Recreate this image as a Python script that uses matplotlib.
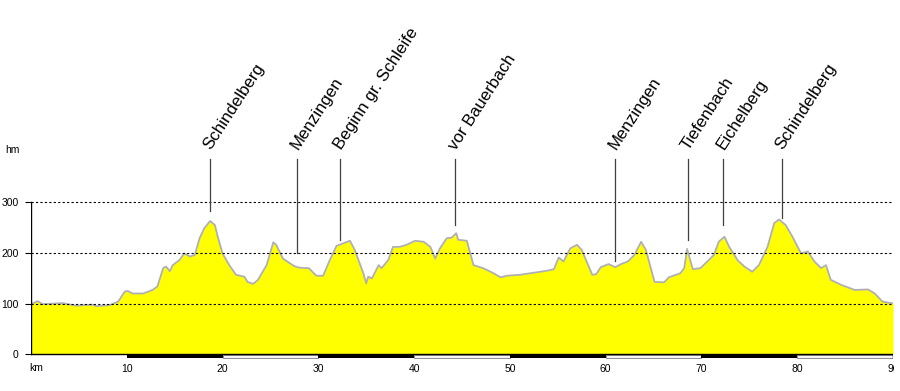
import matplotlib
matplotlib.use("Agg")
import matplotlib.pyplot as plt
import matplotlib.transforms as mtransforms
from matplotlib.patches import Rectangle

# ---- data ----
km = [0, 0.7, 1.2, 3.3, 4.7, 6.4, 6.8, 8.2, 9.1, 9.8, 10.1, 10.6, 11.7, 12.7, 13.2,
      13.8, 14.1, 14.5, 14.8, 15.5, 16.0, 16.6, 17.1, 17.6, 18.1, 18.7, 19.2, 19.5,
      20.0, 20.7, 21.4, 22.3, 22.6, 23.2, 23.7, 24.6, 25.3, 25.6, 26.3, 27.0, 27.5,
      28.0, 29.0, 29.8, 30.5, 31.2, 31.9, 32.6, 33.3, 33.8, 34.7, 35.0, 35.2, 35.6,
      36.3, 36.6, 37.3, 37.8, 38.5, 39.2, 40.1, 41.0, 41.7, 42.2, 42.7, 43.4, 43.9,
      44.4, 44.6, 45.5, 46.2, 47.2, 48.3, 49.0, 49.7, 51.1, 52.5, 53.9, 54.6, 55.1,
      55.6, 56.3, 57.0, 57.5, 58.6, 59.0, 59.5, 60.3, 61.0, 61.6, 62.3, 63.0, 63.7,
      64.2, 65.1, 66.1, 66.6, 67.8, 68.2, 68.5, 69.1, 69.9, 70.6, 71.3, 71.8, 72.4,
      72.9, 73.8, 74.5, 75.3, 76.0, 76.9, 77.6, 78.1, 78.8, 79.5, 80.4, 81.1, 81.8,
      82.5, 83.0, 83.5, 84.6, 86.0, 87.4, 88.1, 88.9, 89.8, 90.0]
hm = [99, 105, 99, 101, 96, 98, 95, 97, 104, 124, 125, 120, 120, 127, 134,
      170, 173, 164, 176, 186, 199, 193, 196, 229, 249, 263, 255, 232,
      199, 176, 157, 153, 143, 139, 147, 176, 221, 216, 189, 180, 174,
      171, 170, 155, 155, 186, 214, 219, 224, 206, 160, 140, 153, 150,
      176, 170, 186, 212, 212, 216, 224, 222, 212, 189, 209, 229, 230,
      239, 226, 224, 176, 170, 160, 152, 155, 157, 161, 165, 168, 191,
      183, 209, 216, 206, 157, 158, 172, 178, 172, 178, 183, 196, 222,
      206, 143, 142, 152, 160, 170, 208, 168, 170, 183, 196, 222, 232,
      212, 185, 173, 163, 176, 212, 259, 266, 255, 232, 199, 203, 183,
      170, 176, 147, 137, 127, 128, 120, 104, 101, 101]

place_names = ["Schindelberg", "Menzingen", "Beginn gr. Schleife", "vor Bauerbach",
               "Menzingen", "Tiefenbach", "Eichelberg", "Schindelberg"]
place_km = [18.7, 27.8, 32.3, 44.3, 61.0, 68.6, 72.3, 78.4]
place_line_bottom = [282, 199, 226, 256, 185, 226, 255, 269]

y_ticks = [0, 100, 200, 300]
x_ticks = [10, 20, 30, 40, 50, 60, 70, 80, 90]
x_tick_labels = ["10", "20", "30", "40", "50", "60", "70", "80", "90"]

# ---- figure ----
W, H = 900, 391
fig = plt.figure(figsize=(W / 100, H / 100), dpi=100)
x0_px, x1_px = 31, 893
ax = fig.add_axes([x0_px / W, (H - 359.4) / H, (x1_px - x0_px) / W, 359.4 / H])
ax.set_xlim(0, 90)
ax.set_ylim(-10, 699)
for s in ax.spines.values():
    s.set_visible(False)

font = "Liberation Sans"

# profile
ax.fill_between(km, 0, hm, color="#ffff00", linewidth=0, zorder=2)
ax.plot(km, hm, color="#b0b0b0", linewidth=1.3, zorder=3, solid_joinstyle="round")

# grid lines
for yv in [100, 200, 300]:
    ax.plot([0, 90], [yv, yv], color="black", linewidth=0.8,
            linestyle=(0, (2, 2)), zorder=4)

# axes lines
ax.plot([0, 0], [0, 300], color="black", linewidth=1.0, zorder=5)
ax.plot([0, 90], [0, 0], color="black", linewidth=1.0, zorder=5)
ax.plot([90, 90], [-8, 0], color="black", linewidth=1.0, zorder=5)

# distance bar
for i in range(1, 9):
    if i % 2 == 1:
        ax.add_patch(Rectangle((i * 10, -8), 10, 8, facecolor="black",
                               edgecolor="none", zorder=4))
    else:
        ax.add_patch(Rectangle((i * 10, -7.5), 10, 7, facecolor="white",
                               edgecolor="#909090", linewidth=0.8, zorder=4))

# ticks
ax.set_yticks(y_ticks)
ax.set_yticklabels([str(v) for v in y_ticks], fontsize=7.5, family=font)
ax.tick_params(axis="y", length=4, width=0.8, pad=5)
ax.set_xticks(x_ticks)
ax.set_xticklabels(x_tick_labels, fontsize=7.5, family=font)
ax.tick_params(axis="x", length=0, pad=3.5)

clip = mtransforms.TransformedBbox(mtransforms.Bbox([[0, 0], [894 / W, 1]]), fig.transFigure)
for lab in ax.get_xticklabels():
    lab.set_clip_on(True)
    lab.set_clip_box(clip)

fig.text(5 / W, 1 - 150 / H, "hm", fontsize=7.5, family=font, va="center", ha="left")
fig.text(29 / W, 1 - 368 / H, "km", fontsize=7.5, family=font, va="center", ha="left")

# place markers
for name, xk, yb in zip(place_names, place_km, place_line_bottom):
    ax.plot([xk, xk], [yb, 385], color="#404040", linewidth=0.9, zorder=5)
    ax.annotate(name, xy=(xk, 385), xytext=(2.5, 5), textcoords="offset points",
                rotation=57, rotation_mode="anchor", ha="left", va="bottom",
                fontsize=12.2, family=font, color="black")

fig.savefig("out.png", dpi=100)
